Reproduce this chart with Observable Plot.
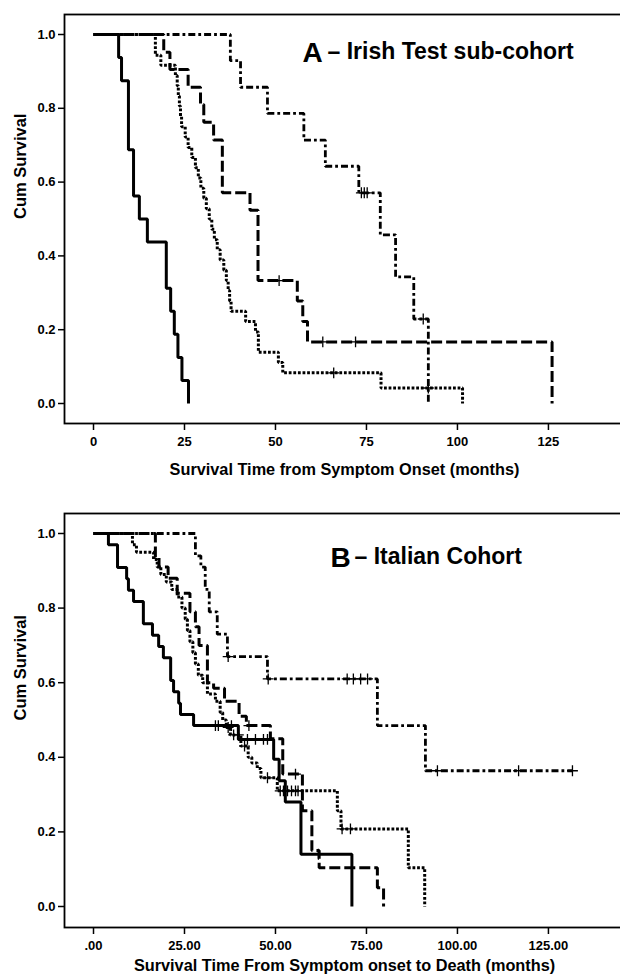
<!DOCTYPE html>
<html><head><meta charset="utf-8">
<script src="https://cdn.jsdelivr.net/npm/d3@7"></script>
<script src="https://cdn.jsdelivr.net/npm/@observablehq/plot@0.6"></script>
<style>
html,body{margin:0;padding:0;background:#fff;overflow:hidden;}
#chart{width:620px;overflow:hidden;}
#chart svg{display:block;}
</style></head><body><div id="chart"></div>
<script>
// ---------- Panel A: Irish Test sub-cohort ----------
const aTitleLetter = "A";
const aTitleText = "– Irish Test sub-cohort";
const aXLabel = "Survival Time from Symptom Onset (months)";
const aXTicks = [0, 25, 50, 75, 100, 125];
const aXTickLabels = ["0", "25", "50", "75", "100", "125"];

const aSolidTime = [0, 6.9, 7.7, 9.6, 11.0, 12.6, 14.8, 20.0, 21.2, 22.2, 23.2, 24.3, 26.1];
const aSolidSurv = [1, .9375, .875, .6875, .5625, .5, .4375, .3125, .25, .1875, .125, .0625, 0];
const aSolidCens = [];

const aDottedTime = [0, 17.0, 18.5, 22.5, 23.0, 23.3, 23.6, 23.9, 24.2, 25.2, 26.0, 27.0, 28.0, 28.8, 29.5, 30.3, 31.0, 31.8, 32.5, 33.2, 34.0, 34.8, 35.8, 36.5, 37.0, 37.4, 37.8, 41.8, 44.5, 45.3, 50.8, 52.0, 79.0, 101.4];
const aDottedSurv = [1, .944, .917, .889, .861, .833, .806, .778, .750, .722, .694, .667, .639, .611, .583, .556, .528, .500, .472, .444, .417, .389, .361, .333, .306, .278, .250, .222, .194, .139, .111, .083, .042, 0];
const aDottedCens = [66, 92];

const aDashedTime = [0, 19.3, 21.0, 26.0, 29.4, 30.3, 33.0, 35.4, 43.0, 45.2, 56.0, 57.5, 58.8, 126.0];
const aDashedSurv = [1, .952, .905, .857, .810, .762, .714, .571, .524, .333, .278, .222, .167, 0];
const aDashedCens = [51, 63, 72];

const aDashDotTime = [0, 37.6, 40.4, 47.8, 57.8, 63.7, 72.9, 78.8, 83.0, 88.0, 92.0];
const aDashDotSurv = [1, .929, .857, .786, .714, .643, .571, .457, .343, .229, 0];
const aDashDotCens = [73.6, 74.4, 75.2, 90.6];

// ---------- Panel B: Italian Cohort ----------
const bTitleLetter = "B";
const bTitleText = "– Italian Cohort";
const bXLabel = "Survival Time From Symptom onset to Death (months)";
const bXTicks = [0, 25, 50, 75, 100, 125];
const bXTickLabels = [".00", "25.00", "50.00", "75.00", "100.00", "125.00"];

const bSolidTime = [0, 4.1, 6.6, 9.1, 9.6, 11.0, 13.7, 16.2, 17.9, 19.2, 21.2, 22.0, 23.4, 23.9, 27.5, 39.8, 49.5, 51.0, 52.7, 57.0, 71.0];
const bSolidSurv = [1, .970, .909, .879, .848, .818, .758, .727, .697, .667, .606, .576, .545, .515, .485, .448, .395, .337, .280, .140, 0];
const bSolidCens = [33.5, 34.3, 37.9, 42.3, 44.5, 46.7, 47.8, 61.8];

const bDottedTime = [0, 10.7, 11.8, 16.5, 17.5, 18.5, 20.0, 21.5, 23.0, 24.3, 25.2, 25.8, 26.5, 27.3, 28.0, 28.8, 30.0, 31.3, 33.5, 34.8, 35.5, 36.5, 37.6, 40.5, 42.5, 43.5, 45.0, 46.0, 50.5, 67.0, 68.0, 86.5, 91.0];
const bDottedSurv = [1, .970, .950, .930, .910, .890, .870, .850, .830, .800, .770, .740, .710, .680, .650, .620, .600, .570, .550, .520, .500, .480, .460, .430, .400, .385, .370, .345, .310, .257, .208, .104, 0];
const bDottedCens = [37.0, 38.5, 39.8, 41.5, 47.8, 51.3, 52.2, 53.3, 54.4, 55.5, 56.2, 68.3, 70.6];

const bDashedTime = [0, 17.0, 18.0, 20.5, 23.0, 26.5, 28.0, 29.0, 31.3, 33.0, 36.0, 40.0, 42.0, 48.6, 52.0, 57.4, 60.0, 62.0, 78.0, 79.7];
const bDashedSurv = [1, .936, .910, .880, .840, .790, .750, .700, .600, .585, .550, .510, .485, .450, .355, .257, .150, .104, .050, 0];
const bDashedCens = [42.7, 55.5];

const bDashDotTime = [0, 28.0, 29.5, 30.7, 31.8, 34.0, 36.8, 47.8, 78.0, 91.2, 131.6];
const bDashDotSurv = [1, .940, .910, .850, .790, .730, .670, .610, .485, .364, .364];
const bDashDotCens = [37.0, 48.0, 69.7, 71.4, 73.4, 75.3, 94.5, 116.8, 131.6];

const yTicks = [0, 0.2, 0.4, 0.6, 0.8, 1.0];
const yLabel = "Cum Survival";

// ---------- helpers ----------
function series(time, surv) { return time.map((t, i) => ({t, s: surv[i]})); }
function censorPoints(time, surv, cens) {
  return cens.map(c => {
    let s = surv[0];
    for (let i = 0; i < time.length; i++) if (time[i] <= c) s = surv[i];
    return {t: c, s};
  });
}
const lineStyles = {
  solid: {strokeWidth: 3},
  dotted: {strokeWidth: 3, strokeDasharray: "2.8,1.8"},
  dashed: {strokeWidth: 3, strokeDasharray: "11,4"},
  dashdot: {strokeWidth: 2.8, strokeDasharray: "7,3,2.8,3"}
};
const FONT = "'Liberation Sans', Arial, Helvetica, sans-serif";

function panel(cfg) {
  const marks = [Plot.frame({stroke: "black", strokeWidth: 1.8})];
  marks.push(Plot.axisY({ticks: yTicks, tickFormat: d3.format(".1f"), tickSize: 6, tickPadding: 3, label: null, fontSize: 13, fontWeight: "bold", strokeWidth: 1.5}));
  marks.push(Plot.axisX({ticks: cfg.xTicks, tickFormat: d => cfg.xTickLabels[cfg.xTicks.indexOf(d)], tickSize: 7, tickPadding: 6, label: null, fontSize: 13, fontWeight: "bold", strokeWidth: 1.5}));
  for (const c of cfg.curves) {
    marks.push(Plot.line(series(c.time, c.surv), {x: "t", y: "s", curve: "step-after", stroke: "black", strokeLinecap: "butt", strokeLinejoin: "miter", ...lineStyles[c.style]}));
  }
  for (const c of cfg.curves) {
    if (c.cens.length) marks.push(Plot.dot(censorPoints(c.time, c.surv, c.cens), {x: "t", y: "s", symbol: "plus", r: 3.6, stroke: "black", strokeWidth: 1.3}));
  }
  marks.push(Plot.text([cfg.letter], {text: d => d, frameAnchor: "top-left", textAnchor: "start", dx: cfg.letterDx, dy: cfg.titleDy, fontSize: 28, fontWeight: "bold"}));
  marks.push(Plot.text([cfg.title], {text: d => d, frameAnchor: "top-left", textAnchor: "start", dx: cfg.titleDx, dy: cfg.titleDy, fontSize: 23, fontWeight: "bold"}));
  marks.push(Plot.text([yLabel], {text: d => d, frameAnchor: "left", rotate: -90, dx: -44, fontSize: 16.5, fontWeight: "bold"}));
  marks.push(Plot.text([cfg.xLabel], {text: d => d, frameAnchor: "bottom", dy: cfg.xLabelDy, fontSize: 16.3, fontWeight: "bold"}));
  return Plot.plot({
    width: 620, height: cfg.height,
    marginTop: cfg.marginTop, marginBottom: cfg.marginBottom, marginLeft: 64, marginRight: -4,
    x: {domain: [-7.97, 145.9]},
    y: {domain: cfg.yDomain},
    style: {fontFamily: FONT, color: "black", background: "white", overflow: "hidden"},
    marks
  });
}

const chart = document.getElementById("chart");
chart.appendChild(panel({
  height: 490, marginTop: 14, marginBottom: 67, yDomain: [-0.0542, 1.0542],
  xTicks: aXTicks, xTickLabels: aXTickLabels, xLabel: aXLabel, xLabelDy: 51,
  letter: aTitleLetter, title: aTitleText, letterDx: 238, titleDx: 263, titleDy: 28,
  curves: [
    {time: aSolidTime, surv: aSolidSurv, cens: aSolidCens, style: "solid"},
    {time: aDottedTime, surv: aDottedSurv, cens: aDottedCens, style: "dotted"},
    {time: aDashedTime, surv: aDashedSurv, cens: aDashedCens, style: "dashed"},
    {time: aDashDotTime, surv: aDashDotSurv, cens: aDashDotCens, style: "dashdot"}
  ]
}));
chart.appendChild(panel({
  height: 488, marginTop: 23, marginBottom: 51, yDomain: [-0.0563, 1.0536],
  xTicks: bXTicks, xTickLabels: bXTickLabels, xLabel: bXLabel, xLabelDy: 43,
  letter: bTitleLetter, title: bTitleText, letterDx: 266, titleDx: 290, titleDy: 34,
  curves: [
    {time: bSolidTime, surv: bSolidSurv, cens: bSolidCens, style: "solid"},
    {time: bDottedTime, surv: bDottedSurv, cens: bDottedCens, style: "dotted"},
    {time: bDashedTime, surv: bDashedSurv, cens: bDashedCens, style: "dashed"},
    {time: bDashDotTime, surv: bDashDotSurv, cens: bDashDotCens, style: "dashdot"}
  ]
}));
</script></body></html>
